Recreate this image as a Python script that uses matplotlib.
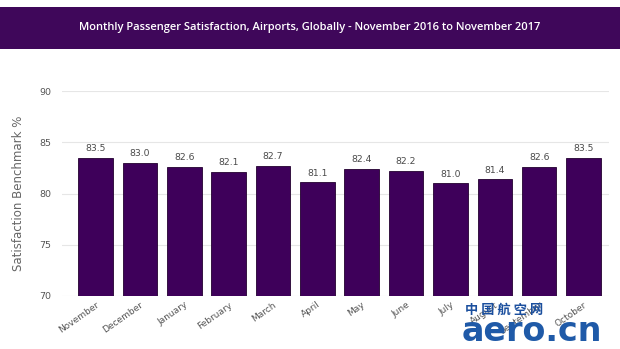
import matplotlib
matplotlib.use("Agg")
import matplotlib.pyplot as plt
from matplotlib.patches import Rectangle

months = ["November", "December", "January", "February", "March", "April",
          "May", "June", "July", "August", "September", "October"]
scores = [83.5, 83.0, 82.6, 82.1, 82.7, 81.1, 82.4, 82.2, 81.0, 81.4, 82.6, 83.5]
yticks = [70, 75, 80, 85, 90]

PURPLE = "#3e005a"
TITLE_BG = "#3f075a"

fig = plt.figure(figsize=(6.2, 3.49), dpi=100)
fig.patch.set_facecolor("white")

# title banner across the top
fig.patches.append(Rectangle((0, 0.860), 1, 0.120, transform=fig.transFigure,
                             facecolor=TITLE_BG, edgecolor="none", zorder=0))
fig.text(0.5, 0.920,
         "Monthly Passenger Satisfaction, Airports, Globally - November 2016 to November 2017",
         color="white", ha="center", va="center", fontsize=8.0,
         family="Open Sans", fontweight="semibold")

ax = fig.add_axes([0.100, 0.152, 0.882, 0.587])
x = list(range(len(months)))
bars = ax.bar(x, scores, width=0.78, color=PURPLE, edgecolor="#22002f",
              linewidth=0.6, zorder=3)
for xi, v in zip(x, scores):
    ax.text(xi, v + 0.45, f"{v:.1f}", ha="center", va="bottom",
            fontsize=6.7, color="#4a4a4a")

ax.set_ylim(70, 90)
ax.set_xlim(-0.755, 11.57)
ax.set_yticks(yticks)
ax.grid(axis="y", color="#e6e6e6", linewidth=0.8, zorder=0)
ax.set_xticks(x)
ax.set_xticklabels(months, rotation=35, ha="right", rotation_mode="anchor",
                   fontsize=6.5, color="#555555")
ax.tick_params(axis="y", labelsize=6.8, labelcolor="#555555", length=0, pad=8)
ax.tick_params(axis="x", length=0, pad=3)
for s in ax.spines.values():
    s.set_visible(False)
ax.set_ylabel("Satisfaction Benchmark %", fontsize=8.5, color="#666666", labelpad=10)

# watermark, drawn over the lower right corner
fig.text(0.750, 0.113, "中 国 航 空 网", color="#1b4f9e", fontsize=9.5,
         family=["Noto Sans CJK SC", "DejaVu Sans"], fontweight="bold",
         ha="left", va="center", zorder=10)
fig.text(0.745, 0.050, "aero.cn", color="#1f5aa8", fontsize=24,
         family="DejaVu Sans", fontweight="bold", ha="left", va="center",
         zorder=10)

fig.savefig("out.png", dpi=100)
